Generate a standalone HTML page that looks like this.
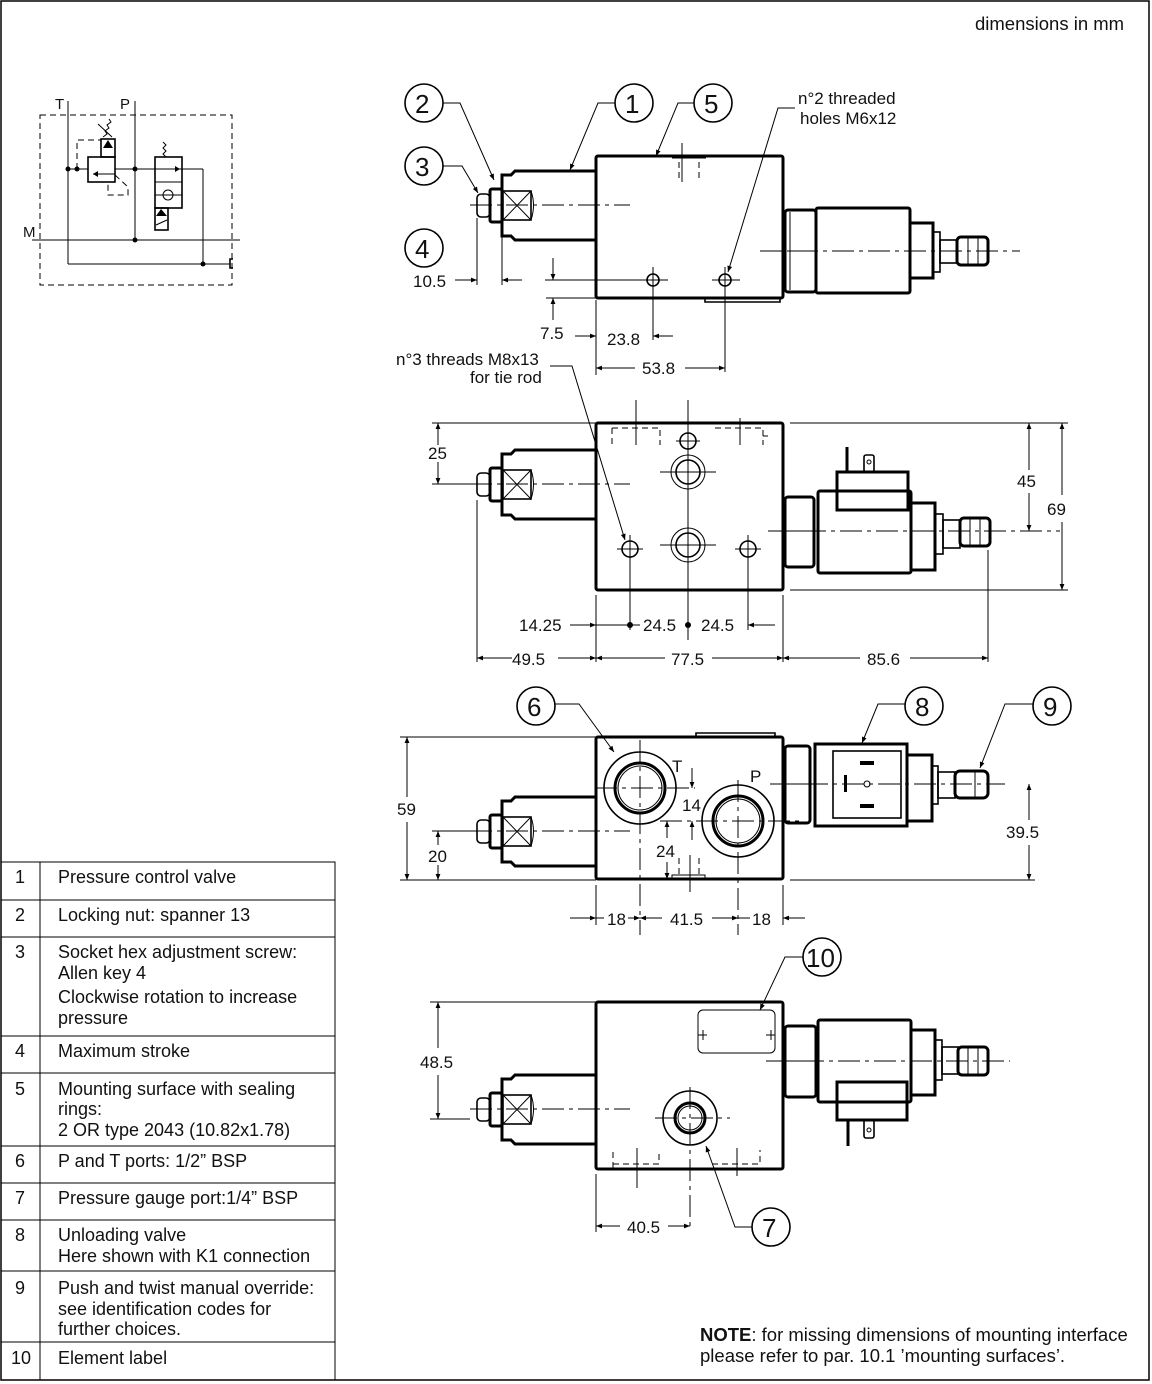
<!DOCTYPE html>
<html><head><meta charset="utf-8"><style>
html,body{margin:0;padding:0;background:#fff;}
svg{display:block;}
text{font-family:"Liberation Sans",Arial,sans-serif;fill:#111;}
.th{fill:none;stroke:#000;stroke-width:3;}
.md{fill:none;stroke:#000;stroke-width:1.6;}
.tn{fill:none;stroke:#000;stroke-width:1;}
.cl{fill:none;stroke:#000;stroke-width:1;stroke-dasharray:22 5 4 5;}
.ds{fill:none;stroke:#000;stroke-width:1;stroke-dasharray:6 4;}
.d{font-size:17px;}
.c{font-size:26px;}
.t{font-size:18px;}
</style></head><body>
<svg width="1152" height="1384" viewBox="0 0 1152 1384" xmlns="http://www.w3.org/2000/svg">
<defs>
<marker id="a" viewBox="0 0 10 10" refX="10" refY="5" markerWidth="12" markerHeight="6" orient="auto-start-reverse" markerUnits="userSpaceOnUse"><path d="M0,1 L10,5 L0,9 z" fill="#000"/></marker>
<g id="lv">
<path class="th" d="M596,-34 H515 L511,-30 H502 V31 H511 L515,35 H596"/>
<rect class="th" x="490" y="-16" width="12" height="33" rx="2"/>
<rect class="md" x="477" y="-11" width="13" height="23" rx="4"/>
<rect class="md" x="503" y="-14" width="28" height="29"/>
<path class="tn" d="M503,-14 L531,15 M531,-14 L503,15 M531,-14 Q536,0 531,15"/>
<line class="cl" x1="470" y1="0" x2="630" y2="0"/>
</g>
</defs>
<rect x="1" y="1" width="1148" height="1379" fill="none" stroke="#000" stroke-width="1.5"/>
<text x="975" y="30" style="font-size:18.5px">dimensions in mm</text>

<g>
<path class="ds" d="M40,115 H232 V285 H40 Z"/>
<text x="55" y="109" style="font-size:15px">T</text>
<text x="120" y="109" style="font-size:15px">P</text>
<text x="23" y="237" style="font-size:15px">M</text>
<line class="tn" x1="68" y1="101" x2="68" y2="264"/>
<line class="tn" x1="135" y1="101" x2="135" y2="240"/>
<line class="tn" x1="32" y1="240" x2="240" y2="240"/>
<line class="tn" x1="68" y1="264" x2="230" y2="264"/>
<line class="tn" x1="203" y1="169" x2="203" y2="264"/>
<line class="tn" x1="68" y1="169" x2="88" y2="169"/>
<line class="tn" x1="115" y1="169" x2="155" y2="169"/>
<line class="tn" x1="180" y1="169" x2="203" y2="169"/>
<circle cx="68" cy="169" r="2.5"/><circle cx="77" cy="169" r="2.5"/><circle cx="135" cy="169" r="2.5"/><circle cx="135" cy="240" r="2.5"/><circle cx="203" cy="264" r="2.5"/>
<rect class="md" x="88" y="157" width="27" height="25"/>
<path class="tn" d="M115,174 H93"/><path d="M93,174 l5,-3 v6 z"/>
<rect class="md" x="101" y="139" width="14" height="18"/><path d="M103,148 L108,140 L113,148 z"/>
<path class="tn" d="M103,137 l4,-3 l-2,-3 l4,-3 l-2,-3 l4,-3 l-2,-3 M98,124 L112,137"/>
<path class="ds" d="M77,169 V140 H101 M115,175 L128,187 V195 H108 V182"/>
<rect class="md" x="155" y="157" width="27" height="51"/>
<line class="tn" x1="155" y1="182" x2="182" y2="182"/>
<path class="tn" d="M155,195 H182"/><circle class="tn" cx="168" cy="195" r="5"/>
<path class="tn" d="M155,169 H180"/><path d="M180,169 l-5,-3 v6 z"/>
<path class="tn" d="M166,157 l-3,-3 l3,-3 l-3,-3 l3,-3 l-3,-3"/>
<rect class="md" x="155" y="208" width="13" height="22"/><path d="M156,216 L161,209 L167,216 z"/>
<line class="tn" x1="156" y1="225" x2="167" y2="220"/>
<path class="md" d="M233,259 H230 V268 H233"/>
</g>

<use href="#lv" transform="translate(0,205)"/>
<rect class="th" x="596" y="156" width="187" height="142" rx="2"/>
<path class="md" d="M705,298 V302 H780 V298"/>
<line class="tn" x1="682" y1="143" x2="682" y2="182"/>
<line class="tn" x1="672" y1="158" x2="706" y2="158"/>
<path class="ds" d="M679,162 V180 M699,162 V180"/>
<circle class="md" cx="653" cy="280" r="6"/><circle class="md" cx="725" cy="280" r="6"/>
<line class="tn" x1="640" y1="280" x2="668" y2="280"/><line class="tn" x1="712" y1="280" x2="740" y2="280"/>
<line class="tn" x1="653" y1="267" x2="653" y2="340"/><line class="tn" x1="725" y1="267" x2="725" y2="372"/>
<rect class="th" x="785" y="210" width="31" height="82" rx="3"/>
<line class="tn" x1="790" y1="212" x2="790" y2="290"/><line class="tn" x1="788" y1="251" x2="812" y2="251"/>
<rect class="th" x="816" y="208" width="94" height="85" rx="2"/>
<rect class="th" x="910" y="223" width="23" height="55"/>
<rect class="md" x="933" y="232" width="7" height="40"/>
<rect class="md" x="940" y="240" width="17" height="23"/>
<rect class="th" x="957" y="237" width="31" height="28" rx="4"/>
<line class="tn" x1="968" y1="238" x2="968" y2="264"/><line class="tn" x1="978" y1="238" x2="978" y2="264"/>
<line class="cl" x1="760" y1="251" x2="1020" y2="251"/>
<line class="tn" x1="477" y1="218" x2="477" y2="285"/><line class="tn" x1="502" y1="236" x2="502" y2="285"/>
<line class="tn" x1="455" y1="280" x2="477" y2="280" marker-end="url(#a)"/><line class="tn" x1="522" y1="280" x2="502" y2="280" marker-end="url(#a)"/>
<text class="d" x="413" y="287">10.5</text>
<line class="tn" x1="545" y1="280" x2="640" y2="280"/><line class="tn" x1="546" y1="298" x2="596" y2="298"/>
<line class="tn" x1="553" y1="258" x2="553" y2="280" marker-end="url(#a)"/><line class="tn" x1="553" y1="320" x2="553" y2="298" marker-end="url(#a)"/>
<text class="d" x="540" y="339">7.5</text>
<line class="tn" x1="596" y1="300" x2="596" y2="375"/>
<line class="tn" x1="575" y1="336" x2="596" y2="336" marker-end="url(#a)"/><line class="tn" x1="673" y1="336" x2="653" y2="336" marker-end="url(#a)"/>
<text class="d" x="607" y="345">23.8</text>
<line class="tn" x1="635" y1="368" x2="596" y2="368" marker-end="url(#a)"/><line class="tn" x1="685" y1="368" x2="725" y2="368" marker-end="url(#a)"/>
<text class="d" x="642" y="374">53.8</text>
<circle class="md" cx="424" cy="103" r="19"/><text class="c" x="415" y="113">2</text>
<circle class="md" cx="634" cy="103" r="19"/><text class="c" x="625" y="113">1</text>
<circle class="md" cx="713" cy="103" r="19"/><text class="c" x="704" y="113">5</text>
<circle class="md" cx="424" cy="166" r="19"/><text class="c" x="415" y="176">3</text>
<circle class="md" cx="424" cy="248" r="19"/><text class="c" x="415" y="258">4</text>
<path class="tn" d="M443,103 H460 L494,180" marker-end="url(#a)"/>
<path class="tn" d="M615,103 H598 L570,170" marker-end="url(#a)"/>
<path class="tn" d="M694,103 H678 L656,156" marker-end="url(#a)"/>
<path class="tn" d="M443,166 H462 L478,193" marker-end="url(#a)"/>
<text class="d" x="798" y="104">n°2 threaded</text><text class="d" x="800" y="124">holes M6x12</text>
<path class="tn" d="M795,108 H778 L728,272" marker-end="url(#a)"/>
<text class="d" x="396" y="365">n°3 threads M8x13</text><text class="d" x="470" y="383">for tie rod</text>
<path class="tn" d="M550,366 H572 L625,540" marker-end="url(#a)"/>

<use href="#lv" transform="translate(0,484)"/>
<rect class="th" x="596" y="423" width="187" height="167" rx="2"/>
<path class="ds" d="M612,428 V445 M612,428 H660 V445 M715,428 H763 V445 M763,436 H768"/>
<line class="tn" x1="636" y1="400" x2="636" y2="445"/><line class="tn" x1="740" y1="418" x2="740" y2="445"/>
<circle class="md" cx="688" cy="441" r="8"/><circle class="md" cx="688" cy="472" r="12"/><circle class="tn" cx="688" cy="472" r="17"/>
<circle class="md" cx="688" cy="545" r="12"/><circle class="tn" cx="688" cy="545" r="17"/>
<circle class="md" cx="630" cy="549" r="8"/><circle class="md" cx="748" cy="549" r="8"/>
<line class="tn" x1="688" y1="400" x2="688" y2="640"/>
<line class="tn" x1="630" y1="535" x2="630" y2="630"/><line class="tn" x1="748" y1="535" x2="748" y2="630"/>
<path class="tn" d="M676,441 H700 M660,472 H716 M660,545 H716 M617,549 H643 M735,549 H761"/>
<rect class="th" x="785" y="497" width="29" height="70" rx="3"/><line class="tn" x1="787" y1="531" x2="812" y2="531"/>
<rect class="th" x="818" y="491" width="93" height="82" rx="2"/>
<rect class="th" x="837" y="472" width="71" height="38"/>
<line class="th" x1="847" y1="447" x2="847" y2="472"/>
<rect class="md" x="864" y="455" width="10" height="17" rx="2"/><circle class="tn" cx="869" cy="462" r="2"/>
<rect class="th" x="911" y="503" width="24" height="67"/>
<rect class="md" x="935" y="514" width="8" height="40"/><rect class="md" x="943" y="520" width="17" height="28"/>
<rect class="th" x="960" y="518" width="30" height="28" rx="4"/>
<line class="tn" x1="970" y1="519" x2="970" y2="545"/><line class="tn" x1="980" y1="519" x2="980" y2="545"/>
<line class="cl" x1="768" y1="531" x2="1060" y2="531"/>
<line class="tn" x1="432" y1="423" x2="596" y2="423"/><line class="tn" x1="790" y1="423" x2="1068" y2="423"/>
<line class="tn" x1="432" y1="484" x2="470" y2="484"/>
<line class="tn" x1="790" y1="590" x2="1068" y2="590"/>
<line class="tn" x1="438" y1="445" x2="438" y2="423" marker-end="url(#a)"/><line class="tn" x1="438" y1="462" x2="438" y2="484" marker-end="url(#a)"/>
<text class="d" x="428" y="459">25</text>
<line class="tn" x1="1029" y1="470" x2="1029" y2="423" marker-end="url(#a)"/><line class="tn" x1="1029" y1="493" x2="1029" y2="531" marker-end="url(#a)"/>
<text class="d" x="1017" y="487">45</text>
<line class="tn" x1="1062" y1="495" x2="1062" y2="423" marker-end="url(#a)"/><line class="tn" x1="1062" y1="522" x2="1062" y2="590" marker-end="url(#a)"/>
<text class="d" x="1047" y="515">69</text>
<line class="tn" x1="477" y1="500" x2="477" y2="662"/><line class="tn" x1="596" y1="595" x2="596" y2="662"/><line class="tn" x1="783" y1="595" x2="783" y2="662"/><line class="tn" x1="988" y1="550" x2="988" y2="662"/>
<line class="tn" x1="570" y1="625" x2="596" y2="625" marker-end="url(#a)"/>
<text class="d" x="519" y="631">14.25</text>
<line class="tn" x1="596" y1="625" x2="640" y2="625"/><circle cx="630" cy="625" r="3"/><circle cx="688" cy="625" r="3"/>
<text class="d" x="643" y="631">24.5</text><text class="d" x="701" y="631">24.5</text>
<line class="tn" x1="775" y1="625" x2="748" y2="625" marker-end="url(#a)"/>
<line class="tn" x1="512" y1="658" x2="477" y2="658" marker-end="url(#a)"/><line class="tn" x1="558" y1="658" x2="596" y2="658" marker-end="url(#a)"/>
<text class="d" x="512" y="665">49.5</text>
<line class="tn" x1="665" y1="658" x2="596" y2="658" marker-end="url(#a)"/><line class="tn" x1="712" y1="658" x2="783" y2="658" marker-end="url(#a)"/>
<text class="d" x="671" y="665">77.5</text>
<line class="tn" x1="860" y1="658" x2="783" y2="658" marker-end="url(#a)"/><line class="tn" x1="910" y1="658" x2="988" y2="658" marker-end="url(#a)"/>
<text class="d" x="867" y="665">85.6</text>

<use href="#lv" transform="translate(0,831)"/>
<rect class="th" x="596" y="737" width="187" height="142" rx="2"/>
<path class="md" d="M696,737 V733 H775 V737"/>
<path class="tn" d="M672,879 V875 H705 V879"/><path class="ds" d="M679,858 V875 M699,858 V875"/>
<circle class="md" cx="640" cy="788" r="36"/><circle class="th" cx="640" cy="788" r="25"/><circle class="tn" cx="640" cy="788" r="22"/>
<circle class="md" cx="738" cy="821" r="36"/><circle class="th" cx="738" cy="821" r="25"/><circle class="tn" cx="738" cy="821" r="22"/>
<line class="cl" x1="595" y1="788" x2="695" y2="788"/><line class="cl" x1="640" y1="740" x2="640" y2="935"/>
<line class="cl" x1="660" y1="821" x2="800" y2="821"/><line class="cl" x1="738" y1="780" x2="738" y2="935"/>
<line class="tn" x1="690" y1="855" x2="690" y2="892"/>
<text x="672" y="772" style="font-size:17px">T</text><text x="750" y="782" style="font-size:17px">P</text>
<line class="tn" x1="692" y1="768" x2="692" y2="788" marker-end="url(#a)"/><line class="tn" x1="692" y1="840" x2="692" y2="821" marker-end="url(#a)"/>
<text class="d" x="682" y="811">14</text>
<line class="tn" x1="667" y1="838" x2="667" y2="821" marker-end="url(#a)"/><line class="tn" x1="667" y1="862" x2="667" y2="879" marker-end="url(#a)"/>
<text class="d" x="656" y="857">24</text>
<rect class="th" x="785" y="746" width="25" height="77" rx="3"/><line class="tn" x1="787" y1="784" x2="808" y2="784"/>
<rect class="th" x="815" y="744" width="92" height="82"/>
<rect class="md" x="833" y="751" width="68" height="67"/>
<rect x="844" y="775" width="3" height="17"/><circle class="tn" cx="867" cy="784" r="3"/>
<rect x="860" y="761" width="14" height="4"/><rect x="860" y="804" width="14" height="4"/>
<rect class="th" x="907" y="755" width="25" height="66"/>
<rect class="md" x="932" y="766" width="6" height="38"/><rect class="md" x="938" y="772" width="17" height="26"/>
<rect class="th" x="955" y="771" width="33" height="27" rx="5"/><line class="tn" x1="975" y1="772" x2="975" y2="797"/>
<line class="cl" x1="770" y1="784" x2="1005" y2="784"/>
<line class="tn" x1="400" y1="737" x2="596" y2="737"/><line class="tn" x1="400" y1="880" x2="596" y2="880"/>
<line class="tn" x1="432" y1="831" x2="470" y2="831"/>
<line class="tn" x1="790" y1="880" x2="1035" y2="880"/>
<line class="tn" x1="407" y1="797" x2="407" y2="737" marker-end="url(#a)"/><line class="tn" x1="407" y1="822" x2="407" y2="880" marker-end="url(#a)"/>
<text class="d" x="397" y="815">59</text>
<line class="tn" x1="438" y1="845" x2="438" y2="831" marker-end="url(#a)"/><line class="tn" x1="438" y1="865" x2="438" y2="880" marker-end="url(#a)"/>
<text class="d" x="428" y="862">20</text>
<line class="tn" x1="1029" y1="820" x2="1029" y2="784" marker-end="url(#a)"/><line class="tn" x1="1029" y1="845" x2="1029" y2="880" marker-end="url(#a)"/>
<text class="d" x="1006" y="838">39.5</text>
<line class="tn" x1="596" y1="885" x2="596" y2="925"/><line class="tn" x1="783" y1="885" x2="783" y2="925"/>
<line class="tn" x1="570" y1="918" x2="596" y2="918" marker-end="url(#a)"/><text class="d" x="607" y="925">18</text>
<line class="tn" x1="596" y1="918" x2="604" y2="918"/><line class="tn" x1="628" y1="918" x2="640" y2="918" marker-end="url(#a)"/>
<line class="tn" x1="662" y1="918" x2="640" y2="918" marker-end="url(#a)"/><text class="d" x="670" y="925">41.5</text>
<line class="tn" x1="712" y1="918" x2="738" y2="918" marker-end="url(#a)"/>
<line class="tn" x1="738" y1="918" x2="750" y2="918"/><text class="d" x="752" y="925">18</text>
<line class="tn" x1="805" y1="918" x2="783" y2="918" marker-end="url(#a)"/>
<circle class="md" cx="536" cy="706" r="19"/><text class="c" x="527" y="716">6</text>
<circle class="md" cx="924" cy="706" r="19"/><text class="c" x="915" y="716">8</text>
<circle class="md" cx="1052" cy="706" r="19"/><text class="c" x="1043" y="716">9</text>
<path class="tn" d="M555,704 H579 L614,752" marker-end="url(#a)"/>
<path class="tn" d="M905,704 H878 L862,743" marker-end="url(#a)"/>
<path class="tn" d="M1033,704 H1005 L980,768" marker-end="url(#a)"/>

<use href="#lv" transform="translate(0,1109)"/>
<rect class="th" x="596" y="1002" width="187" height="167" rx="2"/>
<rect class="tn" x="698" y="1010" width="77" height="43" rx="5"/>
<path class="tn" d="M698,1035 h9 M703,1030 v10 M766,1035 h9 M771,1030 v10"/>
<path class="ds" d="M613,1168 V1150 M613,1164 H659 V1150 M712,1164 H760 V1150"/>
<line class="tn" x1="637" y1="1148" x2="637" y2="1188"/><line class="tn" x1="737" y1="1148" x2="737" y2="1176"/>
<circle class="md" cx="690" cy="1118" r="27"/><circle class="th" cx="690" cy="1118" r="15"/><circle class="tn" cx="690" cy="1118" r="12"/>
<line class="cl" x1="655" y1="1118" x2="730" y2="1118"/><line class="cl" x1="690" y1="1087" x2="690" y2="1228"/>
<rect class="th" x="785" y="1026" width="31" height="71" rx="3"/><line class="tn" x1="787" y1="1061" x2="814" y2="1061"/>
<rect class="th" x="818" y="1020" width="93" height="82" rx="2"/>
<rect class="th" x="837" y="1082" width="70" height="38"/>
<line class="th" x1="848" y1="1120" x2="848" y2="1146"/>
<rect class="md" x="864" y="1120" width="10" height="18" rx="2"/><circle class="tn" cx="869" cy="1130" r="2"/>
<rect class="th" x="911" y="1030" width="24" height="65"/>
<rect class="md" x="935" y="1040" width="7" height="40"/><rect class="md" x="942" y="1047" width="16" height="27"/>
<rect class="th" x="958" y="1047" width="30" height="28" rx="4"/>
<line class="tn" x1="968" y1="1048" x2="968" y2="1074"/><line class="tn" x1="978" y1="1048" x2="978" y2="1074"/>
<line class="cl" x1="766" y1="1061" x2="1010" y2="1061"/>
<line class="tn" x1="430" y1="1002" x2="596" y2="1002"/><line class="tn" x1="430" y1="1119" x2="470" y2="1119"/>
<line class="tn" x1="438" y1="1048" x2="438" y2="1002" marker-end="url(#a)"/><line class="tn" x1="438" y1="1075" x2="438" y2="1119" marker-end="url(#a)"/>
<text class="d" x="420" y="1068">48.5</text>
<line class="tn" x1="596" y1="1174" x2="596" y2="1232"/>
<line class="tn" x1="620" y1="1226" x2="596" y2="1226" marker-end="url(#a)"/><line class="tn" x1="668" y1="1226" x2="690" y2="1226" marker-end="url(#a)"/>
<text class="d" x="627" y="1233">40.5</text>
<circle class="md" cx="822" cy="957" r="19"/><text class="c" x="806" y="967">10</text>
<circle class="md" cx="771" cy="1227" r="19"/><text class="c" x="762" y="1237">7</text>
<path class="tn" d="M803,957 H785 L760,1010" marker-end="url(#a)"/>
<path class="tn" d="M752,1227 H735 L706,1146" marker-end="url(#a)"/>

<g>
<path class="tn" d="M1,862 H335 V1380 M1,900 H335 M1,937 H335 M1,1036 H335 M1,1073 H335 M1,1146 H335 M1,1183 H335 M1,1220 H335 M1,1271 H335 M1,1342 H335 M40,862 V1380"/>
<text class="t" x="15" y="883">1</text><text class="t" x="58" y="883">Pressure control valve</text>
<text class="t" x="15" y="921">2</text><text class="t" x="58" y="921">Locking nut: spanner 13</text>
<text class="t" x="15" y="958">3</text><text class="t" x="58" y="958">Socket hex adjustment screw:</text>
<text class="t" x="58" y="979">Allen key 4</text><text class="t" x="58" y="1003">Clockwise rotation to increase</text><text class="t" x="58" y="1024">pressure</text>
<text class="t" x="15" y="1057">4</text><text class="t" x="58" y="1057">Maximum stroke</text>
<text class="t" x="15" y="1095">5</text><text class="t" x="58" y="1095">Mounting surface with sealing</text>
<text class="t" x="58" y="1115">rings:</text><text class="t" x="58" y="1136">2 OR type 2043 (10.82x1.78)</text>
<text class="t" x="15" y="1167">6</text><text class="t" x="58" y="1167">P and T ports: 1/2” BSP</text>
<text class="t" x="15" y="1204">7</text><text class="t" x="58" y="1204">Pressure gauge port:1/4” BSP</text>
<text class="t" x="15" y="1241">8</text><text class="t" x="58" y="1241">Unloading valve</text>
<text class="t" x="58" y="1262">Here shown with K1 connection</text>
<text class="t" x="15" y="1294">9</text><text class="t" x="58" y="1294">Push and twist manual override:</text>
<text class="t" x="58" y="1315">see identification codes for</text><text class="t" x="58" y="1335">further choices.</text>
<text class="t" x="11" y="1364">10</text><text class="t" x="58" y="1364">Element label</text>
</g>
<text x="700" y="1341" style="font-size:18.5px"><tspan font-weight="bold">NOTE</tspan>: for missing dimensions of mounting interface</text>
<text x="700" y="1362" style="font-size:18.5px">please refer to par. 10.1 ’mounting surfaces’.</text>
</svg>
</body></html>
